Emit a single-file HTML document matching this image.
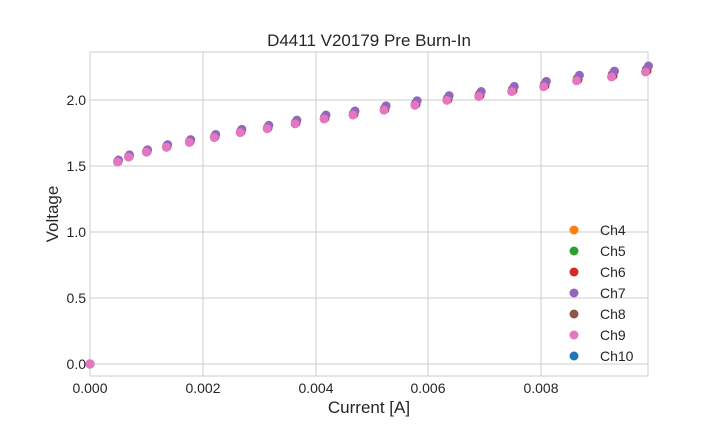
<!DOCTYPE html>
<html><head><meta charset="utf-8"><style>
html,body{margin:0;padding:0;background:#fff;}
svg{display:block;font-family:"Liberation Sans",sans-serif;}
</style></head><body>
<svg width="720" height="432" xmlns="http://www.w3.org/2000/svg">
<rect width="720" height="432" fill="#fff"/>
<g stroke="#cccccc" stroke-width="1">
<line x1="90" y1="52" x2="90" y2="376"/>
<line x1="203" y1="52" x2="203" y2="376"/>
<line x1="316" y1="52" x2="316" y2="376"/>
<line x1="428" y1="52" x2="428" y2="376"/>
<line x1="541" y1="52" x2="541" y2="376"/>
<line x1="90" y1="364" x2="648" y2="364"/>
<line x1="90" y1="298" x2="648" y2="298"/>
<line x1="90" y1="232" x2="648" y2="232"/>
<line x1="90" y1="166" x2="648" y2="166"/>
<line x1="90" y1="100" x2="648" y2="100"/>
<rect x="90" y="52" width="558" height="324" fill="none"/>
</g>
<g font-size="14" fill="#262626" text-anchor="middle">
<text x="90" y="393">0.000</text>
<text x="203" y="393">0.002</text>
<text x="316" y="393">0.004</text>
<text x="428" y="393">0.006</text>
<text x="541" y="393">0.008</text>
</g>
<g font-size="14" fill="#262626" text-anchor="end">
<text x="86" y="369">0.0</text>
<text x="86" y="303">0.5</text>
<text x="86" y="237">1.0</text>
<text x="86" y="171">1.5</text>
<text x="86" y="105">2.0</text>
</g>
<text x="369" y="413" font-size="17" fill="#262626" text-anchor="middle">Current [A]</text>
<text x="58" y="214" font-size="17" fill="#262626" text-anchor="middle" transform="rotate(-90 58 214)">Voltage</text>
<text x="369" y="46" font-size="17" fill="#262626" text-anchor="middle">D4411 V20179 Pre Burn-In</text>
<g id="pts"></g>
<g font-size="14" fill="#262626">
<circle cx="574" cy="230" r="4.5" fill="#ff7f0e"/><text x="600" y="235">Ch4</text>
<circle cx="574" cy="251" r="4.5" fill="#2ca02c"/><text x="600" y="256">Ch5</text>
<circle cx="574" cy="272" r="4.5" fill="#d62728"/><text x="600" y="277">Ch6</text>
<circle cx="574" cy="293" r="4.5" fill="#9467bd"/><text x="600" y="298">Ch7</text>
<circle cx="574" cy="314" r="4.5" fill="#8c564b"/><text x="600" y="319">Ch8</text>
<circle cx="574" cy="335" r="4.5" fill="#e377c2"/><text x="600" y="340">Ch9</text>
<circle cx="574" cy="356" r="4.5" fill="#1f77b4"/><text x="600" y="361">Ch10</text>
</g>
</svg>
<script>
var P=[[118,161],[129,156],[147,151],[167,146],[190,141],[215,136],[241,131],[268,127],[296,122],[325,117],[354,113],[385,108],[416,103],[448,98],[480,94],[513,89],[545,84],[578,78],[613,74],[647,69]];
var ch=[["#1f77b4",0,0],["#ff7f0e",0,0],["#2ca02c",0,0],["#d62728",0,0.6],["#8c564b",-0.3,0.3],["#9467bd",0.5,-1],["#e377c2",-0.5,1]];
var g=document.getElementById('pts'),s='';
ch.forEach(function(c){
 s+='<circle cx="90" cy="364" r="4.5" fill="'+c[0]+'"/>';
 P.forEach(function(p,i){var f=i/19;s+='<circle cx="'+(p[0]+c[1]*(1+f*2))+'" cy="'+(p[1]+c[2]*(1+f*2))+'" r="4.5" fill="'+c[0]+'"/>';});
});
g.innerHTML=s;
</script>
</body></html>
